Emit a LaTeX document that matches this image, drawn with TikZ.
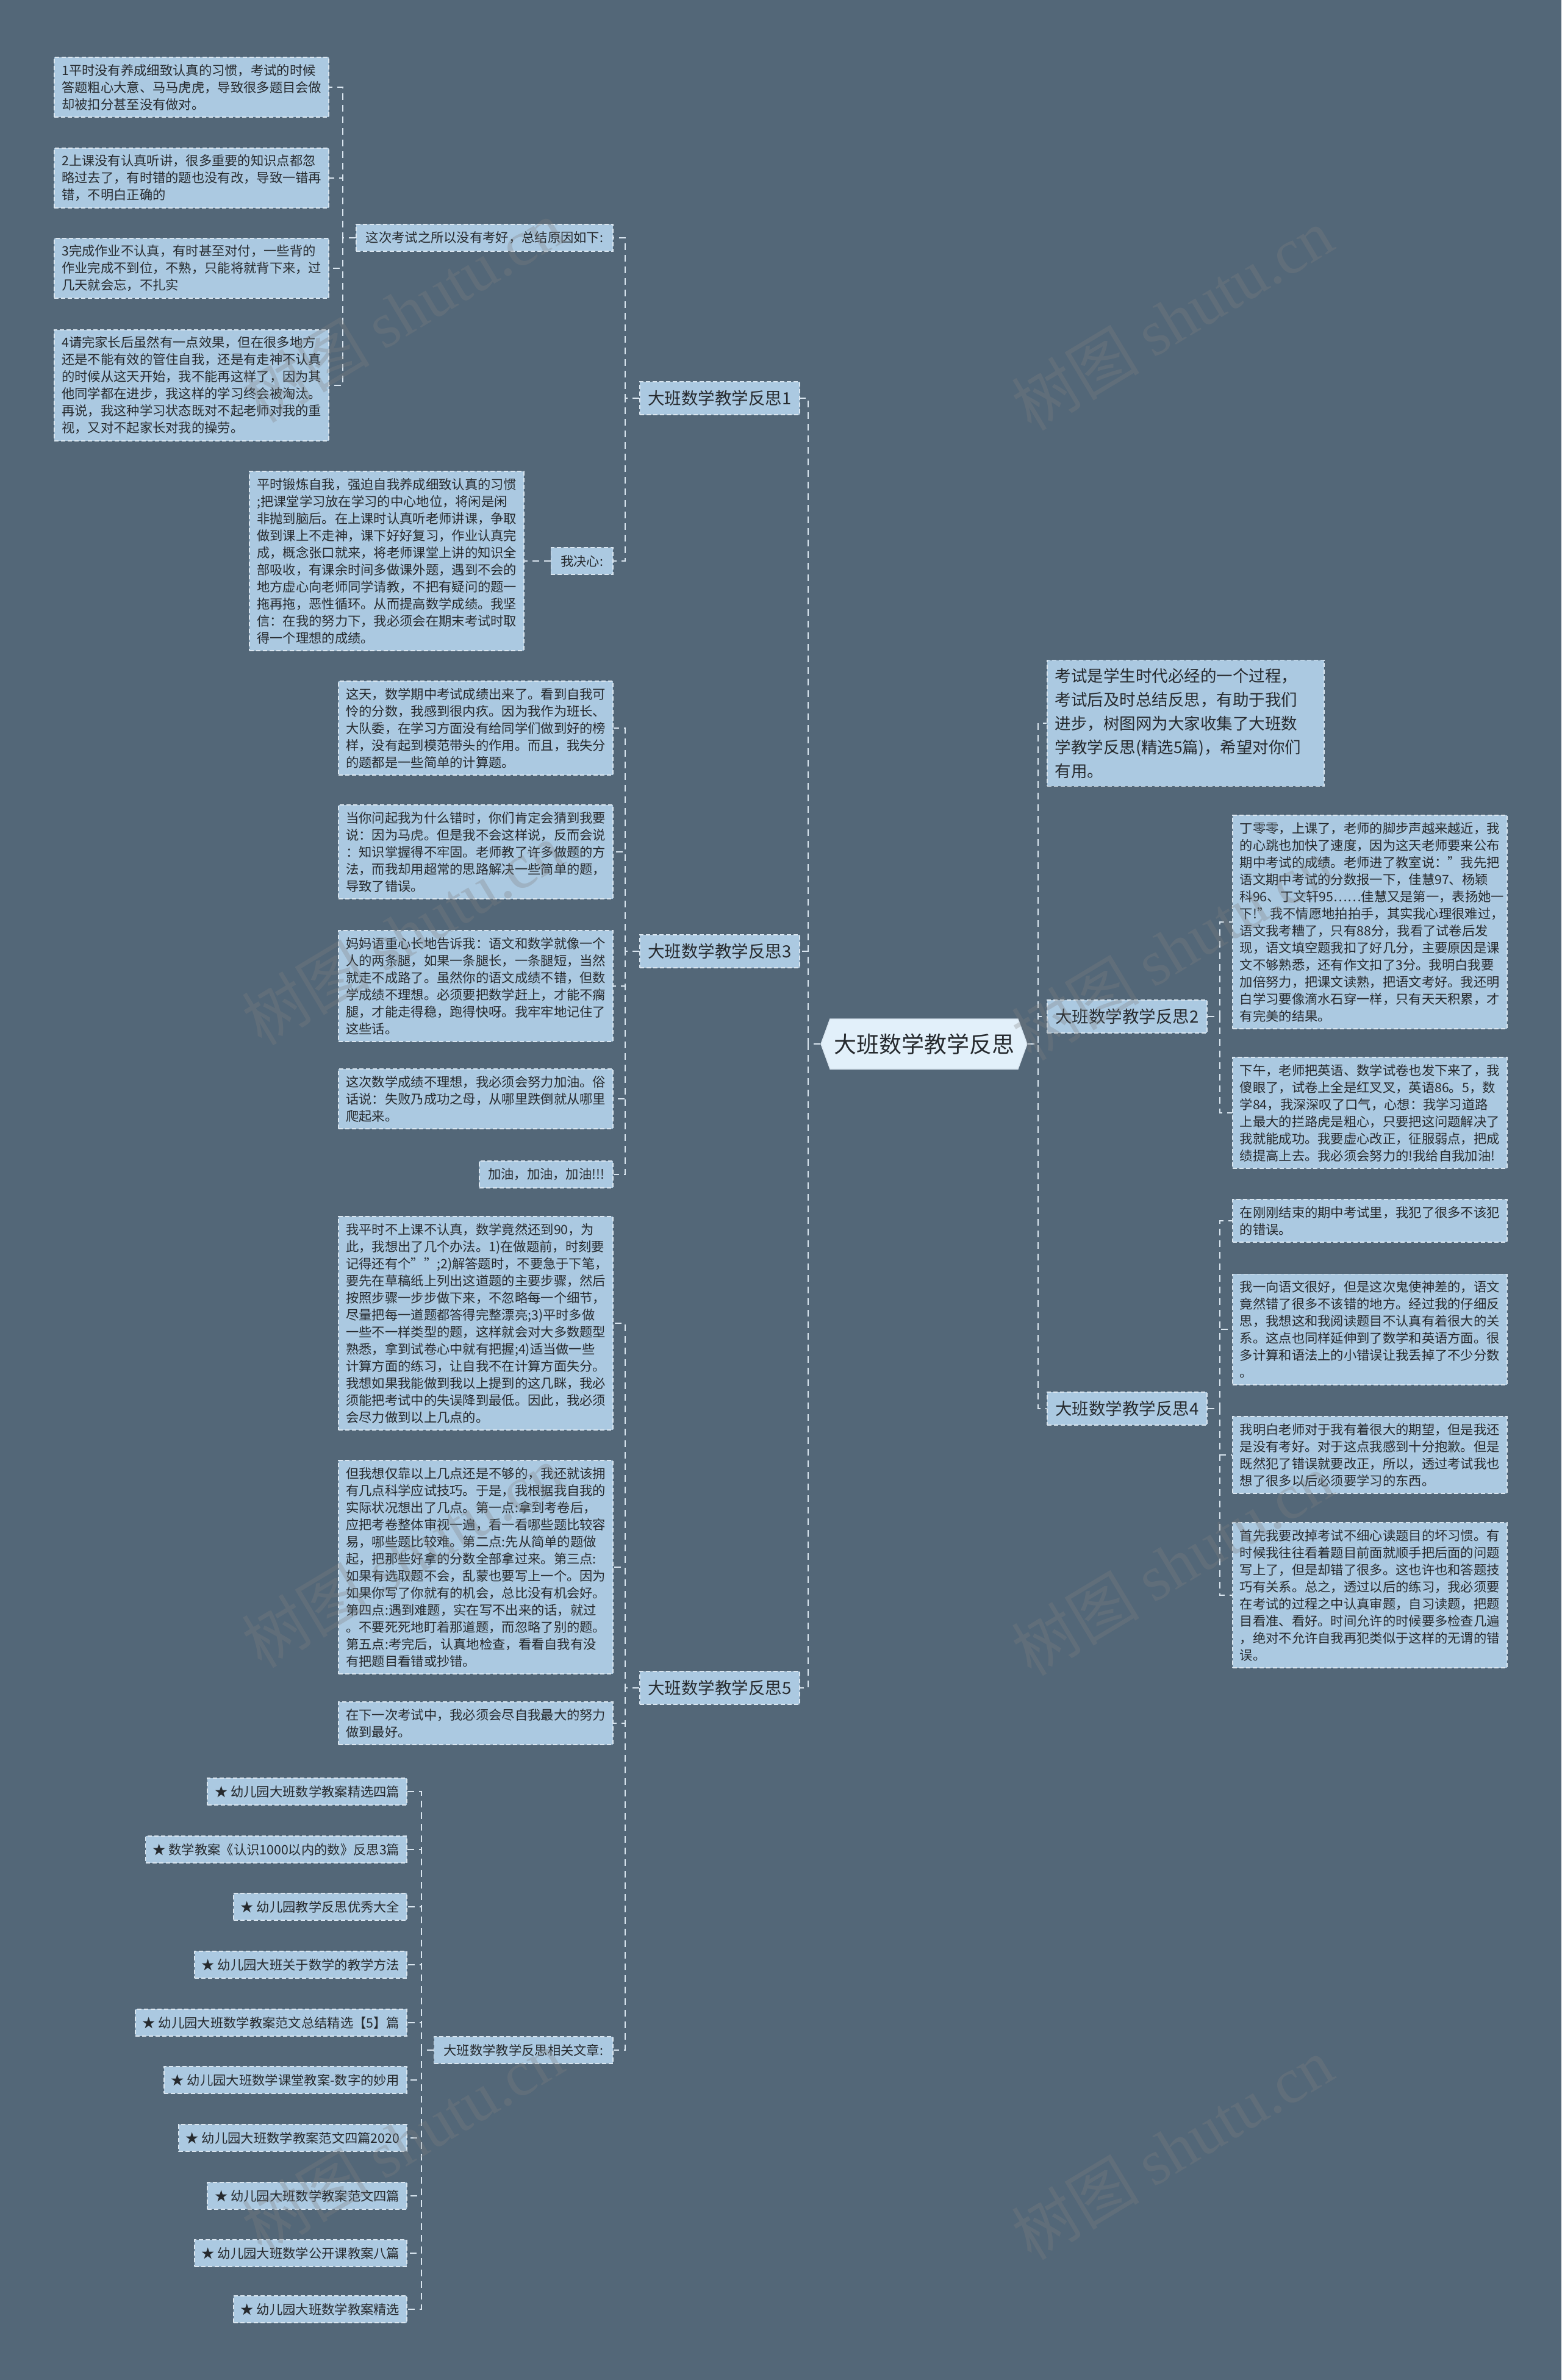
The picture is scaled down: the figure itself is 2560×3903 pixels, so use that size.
\documentclass[tikz,border=0pt]{standalone}
\usepackage{fontspec}
\setmainfont{Noto Sans CJK SC}
\newfontfamily\wmserif{Liberation Serif}
\usetikzlibrary{shapes.symbols}
\definecolor{bg}{RGB}{83,103,120}
\definecolor{boxc}{RGB}{171,201,225}
\definecolor{linec}{RGB}{218,230,240}
\definecolor{txt}{RGB}{38,42,46}
\definecolor{ctrfill}{RGB}{226,240,250}
\definecolor{wm}{RGB}{128,128,128}
\begin{document}
\begin{tikzpicture}[x=1pt,y=-1pt,
 boxbase/.style={draw=linec, line width=1.6pt, dash pattern=on 7pt off 4pt, fill=boxc, text=txt},
 leaf/.style={boxbase, font=\fontsize{21.3pt}{28pt}\selectfont, inner xsep=12pt, inner ysep=11pt, text width=426pt, align=left},
 lbl/.style={boxbase, font=\fontsize{21.3pt}{28pt}\selectfont, inner xsep=16pt, inner ysep=12pt},
 art/.style={boxbase, font=\fontsize{21.3pt}{28pt}\selectfont, inner xsep=12pt, inner ysep=12pt},
 branch/.style={boxbase, font=\fontsize{27.5pt}{33pt}\selectfont, inner xsep=13.5pt, inner ysep=14pt},
 introbox/.style={boxbase, font=\fontsize{26.5pt}{39pt}\selectfont, inner xsep=13pt, inner ysep=13pt, text width=428pt, align=left},
 ctr/.style={signal, signal to=west and east, signal pointer angle=140, fill=ctrfill, draw=linec, line width=1.5pt, text=txt, font=\fontsize{37pt}{44pt}\selectfont, inner xsep=6pt, minimum height=82pt},
 conn/.style={draw=linec, line width=2pt, dash pattern=on 11pt off 8pt},
 wmark/.style={rotate=31, text=wm, opacity=0.3, font=\fontsize{105pt}{110pt}\selectfont}
]
\fill[bg] (0,0) rectangle (2560,3903);
\useasboundingbox (0,0) rectangle (2560,3903);

% center
\node[ctr] (c) at (1515,1712) {大班数学教学反思};

% main branches
\node[branch, anchor=east] (b1) at (1312,653) {大班数学教学反思1};
\node[branch, anchor=east] (b3) at (1312,1560) {大班数学教学反思3};
\node[branch, anchor=east] (b5) at (1312,2768) {大班数学教学反思5};
\node[introbox, anchor=west] (intro) at (1716,1186) {考试是学生时代必经的一个过程，\\考试后及时总结反思，有助于我们\\进步，树图网为大家收集了大班数\\学教学反思(精选5篇)，希望对你们\\有用。};
\node[branch, anchor=west] (b2) at (1716,1667) {大班数学教学反思2};
\node[branch, anchor=west] (b4) at (1716,2310) {大班数学教学反思4};

% branch 1
\node[lbl, anchor=east] (l1) at (1006,390) {这次考试之所以没有考好，总结原因如下:};
\node[leaf, anchor=east] (r1) at (540,143) {1平时没有养成细致认真的习惯，考试的时候\\答题粗心大意、马马虎虎，导致很多题目会做\\却被扣分甚至没有做对。};
\node[leaf, anchor=east] (r2) at (540,292) {2上课没有认真听讲，很多重要的知识点都忽\\略过去了，有时错的题也没有改，导致一错再\\错，不明白正确的};
\node[leaf, anchor=east] (r3) at (540,440) {3完成作业不认真，有时甚至对付，一些背的\\作业完成不到位，不熟，只能将就背下来，过\\几天就会忘，不扎实};
\node[leaf, anchor=east] (r4) at (540,632) {4请完家长后虽然有一点效果，但在很多地方\\还是不能有效的管住自我，还是有走神不认真\\的时候从这天开始，我不能再这样了，因为其\\他同学都在进步，我这样的学习终会被淘汰。\\再说，我这种学习状态既对不起老师对我的重\\视，又对不起家长对我的操劳。};
\node[lbl, anchor=east] (jx) at (1006,920) {我决心:};
\node[leaf, anchor=east] (jxb) at (860,920) {平时锻炼自我，强迫自我养成细致认真的习惯\\;把课堂学习放在学习的中心地位，将闲是闲\\非抛到脑后。在上课时认真听老师讲课，争取\\做到课上不走神，课下好好复习，作业认真完\\成，概念张口就来，将老师课堂上讲的知识全\\部吸收，有课余时间多做课外题，遇到不会的\\地方虚心向老师同学请教，不把有疑问的题一\\拖再拖，恶性循环。从而提高数学成绩。我坚\\信：在我的努力下，我必须会在期末考试时取\\得一个理想的成绩。};

% branch 3
\node[leaf, anchor=east] (t1) at (1006,1194) {这天，数学期中考试成绩出来了。看到自我可\\怜的分数，我感到很内疚。因为我作为班长、\\大队委，在学习方面没有给同学们做到好的榜\\样，没有起到模范带头的作用。而且，我失分\\的题都是一些简单的计算题。};
\node[leaf, anchor=east] (t2) at (1006,1397) {当你问起我为什么错时，你们肯定会猜到我要\\说：因为马虎。但是我不会这样说，反而会说\\：知识掌握得不牢固。老师教了许多做题的方\\法，而我却用超常的思路解决一些简单的题，\\导致了错误。};
\node[leaf, anchor=east] (t3) at (1006,1617) {妈妈语重心长地告诉我：语文和数学就像一个\\人的两条腿，如果一条腿长，一条腿短，当然\\就走不成路了。虽然你的语文成绩不错，但数\\学成绩不理想。必须要把数学赶上，才能不瘸\\腿，才能走得稳，跑得快呀。我牢牢地记住了\\这些话。};
\node[leaf, anchor=east] (t4) at (1006,1802) {这次数学成绩不理想，我必须会努力加油。俗\\话说：失败乃成功之母，从哪里跌倒就从哪里\\爬起来。};
\node[lbl, anchor=east, inner xsep=14pt] (t5) at (1006,1926) {加油，加油，加油!!!};

% branch 5
\node[leaf, anchor=east] (f1) at (1006,2170) {我平时不上课不认真，数学竟然还到90，为\\此，我想出了几个办法。1)在做题前，时刻要\\记得还有个"";2)解答题时，不要急于下笔，\\要先在草稿纸上列出这道题的主要步骤，然后\\按照步骤一步步做下来，不忽略每一个细节，\\尽量把每一道题都答得完整漂亮;3)平时多做\\一些不一样类型的题，这样就会对大多数题型\\熟悉，拿到试卷心中就有把握;4)适当做一些\\计算方面的练习，让自我不在计算方面失分。\\我想如果我能做到我以上提到的这几眯，我必\\须能把考试中的失误降到最低。因此，我必须\\会尽力做到以上几点的。};
\node[leaf, anchor=east] (f2) at (1006,2570) {但我想仅靠以上几点还是不够的，我还就该拥\\有几点科学应试技巧。于是，我根据我自我的\\实际状况想出了几点。第一点:拿到考卷后，\\应把考卷整体审视一遍，看一看哪些题比较容\\易，哪些题比较难。第二点:先从简单的题做\\起，把那些好拿的分数全部拿过来。第三点:\\如果有选取题不会，乱蒙也要写上一个。因为\\如果你写了你就有的机会，总比没有机会好。\\第四点:遇到难题，实在写不出来的话，就过\\。不要死死地盯着那道题，而忽略了别的题。\\第五点:考完后，认真地检查，看看自我有没\\有把题目看错或抄错。};
\node[leaf, anchor=east] (f3) at (1006,2826) {在下一次考试中，我必须会尽自我最大的努力\\做到最好。};
\node[lbl, anchor=east] (rel) at (1006,3362) {大班数学教学反思相关文章:};

% related articles
\node[art, anchor=east] (a1) at (668,2938) {★ 幼儿园大班数学教案精选四篇};
\node[art, anchor=east] (a2) at (668,3033) {★ 数学教案《认识1000以内的数》反思3篇};
\node[art, anchor=east] (a3) at (668,3127) {★ 幼儿园教学反思优秀大全};
\node[art, anchor=east] (a4) at (668,3222) {★ 幼儿园大班关于数学的教学方法};
\node[art, anchor=east] (a5) at (668,3317) {★ 幼儿园大班数学教案范文总结精选【5】篇};
\node[art, anchor=east] (a6) at (668,3411) {★ 幼儿园大班数学课堂教案-数字的妙用};
\node[art, anchor=east] (a7) at (668,3506) {★ 幼儿园大班数学教案范文四篇2020};
\node[art, anchor=east] (a8) at (668,3601) {★ 幼儿园大班数学教案范文四篇};
\node[art, anchor=east] (a9) at (668,3695) {★ 幼儿园大班数学公开课教案八篇};
\node[art, anchor=east] (a10) at (668,3787) {★ 幼儿园大班数学教案精选};

% branch 2
\node[leaf, anchor=west] (d1) at (2020,1512) {丁零零，上课了，老师的脚步声越来越近，我\\的心跳也加快了速度，因为这天老师要来公布\\期中考试的成绩。老师进了教室说："我先把\\语文期中考试的分数报一下，佳慧97、杨颖\\科96、丁文轩95……佳慧又是第一，表扬她一\\下!"我不情愿地拍拍手，其实我心理很难过，\\语文我考糟了，只有88分，我看了试卷后发\\现，语文填空题我扣了好几分，主要原因是课\\文不够熟悉，还有作文扣了3分。我明白我要\\加倍努力，把课文读熟，把语文考好。我还明\\白学习要像滴水石穿一样，只有天天积累，才\\有完美的结果。};
\node[leaf, anchor=west] (d2) at (2020,1825) {下午，老师把英语、数学试卷也发下来了，我\\傻眼了，试卷上全是红叉叉，英语86。5，数\\学84，我深深叹了口气，心想：我学习道路\\上最大的拦路虎是粗心，只要把这问题解决了\\我就能成功。我要虚心改正，征服弱点，把成\\绩提高上去。我必须会努力的!我给自我加油!};

% branch 4
\node[leaf, anchor=west] (e1) at (2020,2002) {在刚刚结束的期中考试里，我犯了很多不该犯\\的错误。};
\node[leaf, anchor=west] (e2) at (2020,2180) {我一向语文很好，但是这次鬼使神差的，语文\\竟然错了很多不该错的地方。经过我的仔细反\\思，我想这和我阅读题目不认真有着很大的关\\系。这点也同样延伸到了数学和英语方面。很\\多计算和语法上的小错误让我丢掉了不少分数\\。};
\node[leaf, anchor=west] (e3) at (2020,2386) {我明白老师对于我有着很大的期望，但是我还\\是没有考好。对于这点我感到十分抱歉。但是\\既然犯了错误就要改正，所以，透过考试我也\\想了很多以后必须要学习的东西。};
\node[leaf, anchor=west] (e4) at (2020,2616) {首先我要改掉考试不细心读题目的坏习惯。有\\时候我往往看着题目前面就顺手把后面的问题\\写上了，但是却错了很多。这也许也和答题技\\巧有关系。总之，透过以后的练习，我必须要\\在考试的过程之中认真审题，自习读题，把题\\目看准、看好。时间允许的时候要多检查几遍\\，绝对不允许自我再犯类似于这样的无谓的错\\误。};

% connectors: center
\foreach \n in {b1,b3,b5} \draw[conn] (c.west) -- ++(-20,0) |- (\n.east);
\foreach \n in {intro,b2,b4} \draw[conn] (c.east) -- ++(17,0) |- (\n.west);
% branch 1
\foreach \n in {l1,jx} \draw[conn] (b1.west) -- ++(-23,0) |- (\n.east);
\foreach \n in {r1,r2,r3,r4} \draw[conn] (l1.west) -- ++(-21,0) |- (\n.east);
\draw[conn] (jx.west) -- (jxb.east);
% branch 3
\foreach \n in {t1,t2,t3,t4,t5} \draw[conn] (b3.west) -- ++(-23,0) |- (\n.east);
% branch 5
\foreach \n in {f1,f2,f3,rel} \draw[conn] (b5.west) -- ++(-23,0) |- (\n.east);
\foreach \n in {a1,a2,a3,a4,a5,a6,a7,a8,a9,a10} \draw[conn] (rel.west) -- ++(-20,0) |- (\n.east);
% branch 2 and 4
\foreach \n in {d1,d2} \draw[conn] (b2.east) -- ++(20,0) |- (\n.west);
\foreach \n in {e1,e2,e3,e4} \draw[conn] (b4.east) -- ++(20,0) |- (\n.west);

% watermarks
\foreach \wx/\wy in {660/510, 1922/523, 660/1531, 1922/1556, 660/2552, 1922/2565, 660/3511, 1922/3523}
  \node[wmark] at (\wx,\wy) {树图 {\wmserif shutu.cn}};
\end{tikzpicture}
\end{document}
